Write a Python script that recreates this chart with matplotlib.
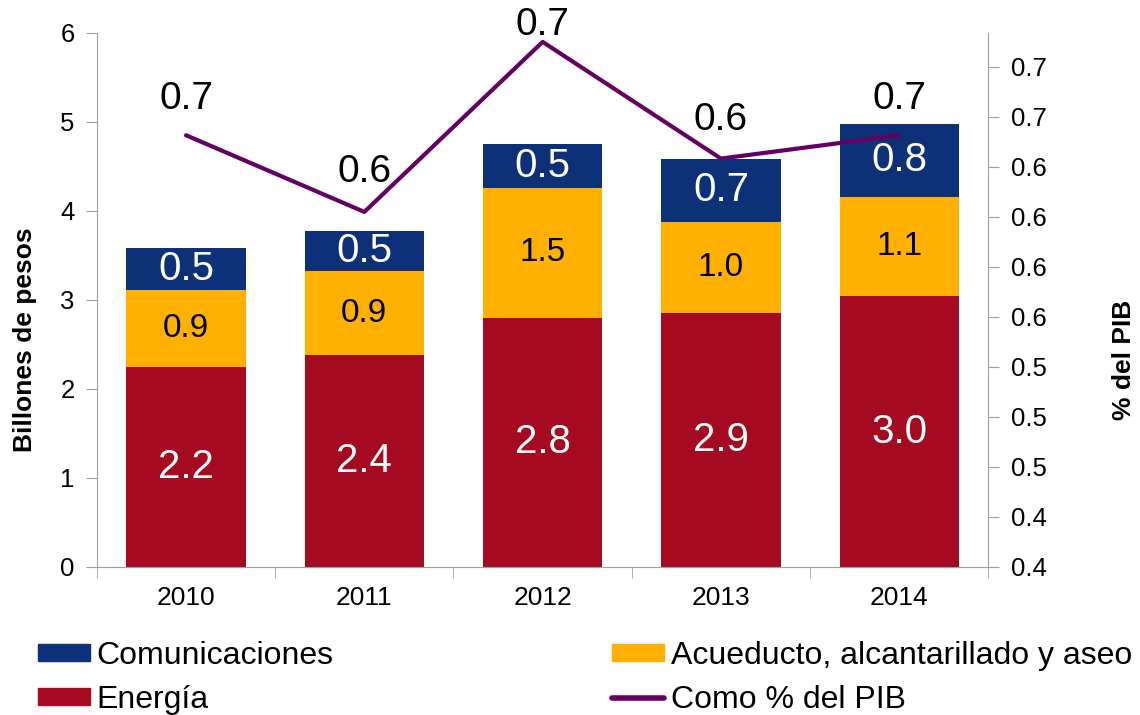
import numpy as np
import matplotlib.pyplot as plt
from matplotlib.lines import Line2D
from matplotlib.patches import Patch

plt.rcParams['font.family'] = ['Liberation Sans', 'DejaVu Sans']

# ---- data -------------------------------------------------------
years = ['2010', '2011', '2012', '2013', '2014']
energia = [2.25, 2.38, 2.80, 2.85, 3.04]
acueducto = [0.86, 0.94, 1.46, 1.03, 1.12]
comunicaciones = [0.47, 0.46, 0.49, 0.70, 0.82]
pct_pib = [0.659, 0.613, 0.715, 0.645, 0.659]
left_ticks = [0, 1, 2, 3, 4, 5, 6]
right_ticks = [0.40, 0.43, 0.46, 0.49, 0.52, 0.55, 0.58, 0.61, 0.64, 0.67, 0.70]

# ---- style ------------------------------------------------------
c_com = '#0D3178'
c_acu = '#FFB000'
c_ene = '#A50A21'
c_pib = '#650062'
c_axis = '#A0A0A0'

fig = plt.figure(figsize=(11.4, 7.15), dpi=100)
ax = fig.add_axes([0.085, 0.207, 0.782, 0.747])
x = np.arange(len(years))
w = 0.67

b1 = ax.bar(x, energia, w, color=c_ene, zorder=2)
b2 = ax.bar(x, acueducto, w, bottom=energia, color=c_acu, zorder=2)
bottom3 = np.array(energia) + np.array(acueducto)
b3 = ax.bar(x, comunicaciones, w, bottom=bottom3, color=c_com, zorder=2)

ax.bar_label(b1, labels=[f'{v:.1f}' for v in energia], label_type='center', color='white', fontsize=29)
ax.bar_label(b2, labels=[f'{v:.1f}' for v in acueducto], label_type='center', color='black', fontsize=24)
ax.bar_label(b3, labels=[f'{v:.1f}' for v in comunicaciones], label_type='center', color='white', fontsize=29)

ax.set_xlim(-0.5, len(years) - 0.5)
ax.set_ylim(0, 6)
ax.set_yticks(left_ticks)
ax.set_xticks(x)
ax.set_xticklabels(years, fontsize=19)
ax.set_xticks(np.arange(-0.5, len(years)), minor=True)
ax.tick_params(axis='x', which='major', length=0, pad=14)
ax.tick_params(axis='x', which='minor', length=8, color=c_axis, direction='out')
ax.tick_params(axis='y', labelsize=18.5, length=8, color=c_axis, direction='out', pad=8)
for s in ['top', 'right']:
    ax.spines[s].set_visible(False)
for s in ['left', 'bottom']:
    ax.spines[s].set_color(c_axis)
ax.set_ylabel('Billones de pesos', fontsize=19, fontweight='bold')
ax.yaxis.set_label_coords(-0.067, 0.425)

# ---- secondary axis --------------------------------------------
ax2 = ax.twinx()
ax2.plot(x, pct_pib, color=c_pib, lw=3, solid_capstyle='round', zorder=3)
ax2.set_ylim(0.40, 0.40 + 0.03 * 534 / 50)
ax2.set_yticks(right_ticks)
ax2.set_yticklabels([f'{t:.1f}' for t in right_ticks])
ax2.tick_params(axis='y', labelsize=18.5, length=8, color=c_axis, direction='out', pad=8)
for s in ['top', 'left', 'bottom']:
    ax2.spines[s].set_visible(False)
ax2.spines['right'].set_color(c_axis)
ax2.set_ylabel('% del PIB', fontsize=19, fontweight='bold')
ax2.yaxis.set_label_coords(1.139, 0.388)

offsets = [26, 29, 12, 28, 26]
for xi, v, off in zip(x, pct_pib, offsets):
    ax2.annotate(f'{v:.1f}', (xi, v), xytext=(0, off), textcoords='offset points',
                 ha='center', va='center', fontsize=28, annotation_clip=False)

# ---- legend -----------------------------------------------------
h_com = Patch(color=c_com)
h_acu = Patch(color=c_acu)
h_ene = Patch(color=c_ene)
h_pib = Line2D([], [], color=c_pib, lw=4, solid_capstyle='round')
leg_kw = dict(frameon=False, fontsize=23, handlelength=1.63, handleheight=0.45,
              handletextpad=0.2, labelspacing=0.45, borderaxespad=0, borderpad=0)
leg1 = fig.legend([h_com, h_ene], ['Comunicaciones', 'Energía'],
                  loc='upper left', bbox_to_anchor=(0.033, 0.104), **leg_kw)
leg2 = fig.legend([h_acu, h_pib], ['Acueducto, alcantarillado y aseo', 'Como % del PIB'],
                  loc='upper left', bbox_to_anchor=(0.537, 0.104), **leg_kw)

fig.savefig('out.png', dpi=100)
